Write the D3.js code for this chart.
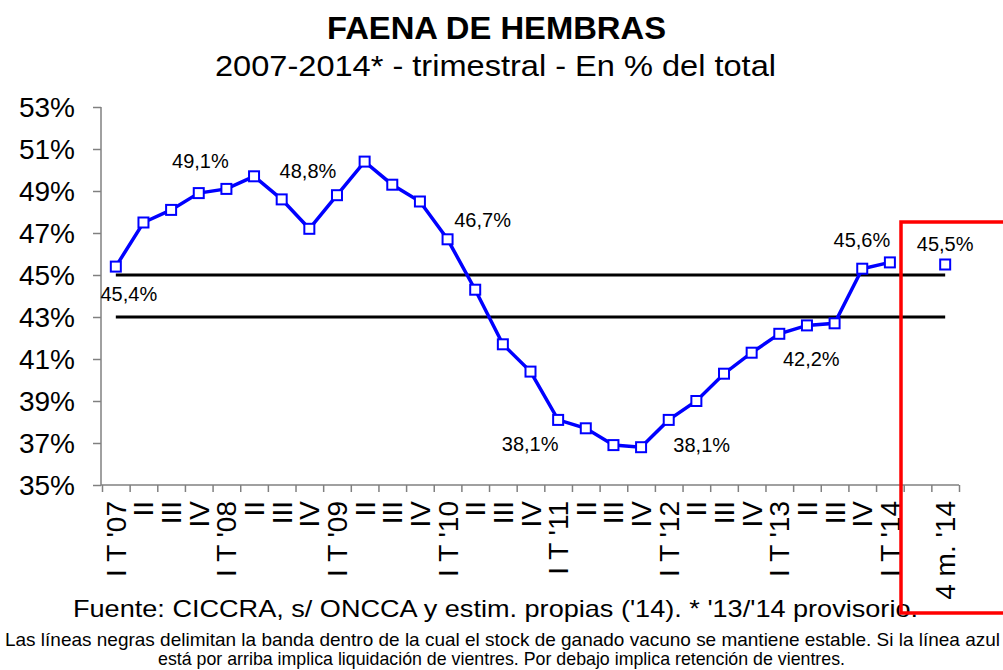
<!DOCTYPE html>
<html>
<head>
<meta charset="utf-8">
<script src="https://cdn.jsdelivr.net/npm/d3@7"></script>
<style>
  body { margin: 0; background: #fff; }
  text { font-family: "Liberation Sans", Arial, sans-serif; fill: #000; }
</style>
</head>
<body>
<svg width="1003" height="670"></svg>
<script>
const quarters = ["I T '07", "II", "III", "IV", "I T '08", "II ", "III ", "IV ", "I T '09", "II  ", "III  ", "IV  ",
  "I T '10", "II   ", "III   ", "IV   ", "I T '11", "II    ", "III    ", "IV    ", "I T '12", "II     ", "III     ", "IV     ",
  "I T '13", "II      ", "III      ", "IV      ", "I T '14"];
const categories = quarters.concat(["gap", "4 m. '14"]);
const values = [45.4, 47.5, 48.1, 48.9, 49.1, 49.7, 48.6, 47.2, 48.8, 50.4, 49.3, 48.5,
  46.7, 44.3, 41.7, 40.4, 38.1, 37.7, 36.9, 36.8, 38.1, 39.0, 40.3, 41.3,
  42.2, 42.6, 42.7, 45.3, 45.6];
const lastValue = 45.5;
const band = [45, 43];
const yTicks = [35, 37, 39, 41, 43, 45, 47, 49, 51, 53];
// which points carry a label, and where the label sits relative to the point
const labels = [
  {i: 0, dx: 13, dy: 27},
  {i: 4, dx: -26, dy: -28},
  {i: 8, dx: -29, dy: -24},
  {i: 12, dx: 35, dy: -19},
  {i: 16, dx: -28, dy: 24},
  {i: 20, dx: 33, dy: 25},
  {i: 24, dx: 32, dy: 25},
  {i: 28, dx: -28, dy: -22},
  {i: 30, dx: 0, dy: -21}
];

const svg = d3.select("svg");
const fmt = v => d3.format(".1f")(v).replace(".", ",") + "%";

const x = d3.scaleBand().domain(categories).range([102, 959]);
const xi = d3.scaleLinear().domain([0, categories.length]).range([102, 959]);
const y = d3.scaleLinear().domain([35, 53]).range([485, 107]);
const cx = i => x(categories[i]) + x.bandwidth() / 2;

// titles
svg.append("text").attr("x", 327).attr("y", 39)
  .attr("textLength", 339).attr("lengthAdjust", "spacingAndGlyphs")
  .style("font-size", "32px").style("font-weight", "bold").text("FAENA DE HEMBRAS");
svg.append("text").attr("x", 215).attr("y", 76)
  .attr("textLength", 561).attr("lengthAdjust", "spacingAndGlyphs")
  .style("font-size", "30px").text("2007-2014* - trimestral - En % del total");

// y axis
const yAxis = svg.append("g").attr("transform", "translate(101,0)")
  .call(d3.axisLeft(y).tickValues(yTicks).tickSize(8).tickPadding(18).tickFormat(d => d + "%"));
yAxis.selectAll("text").style("font-size", "28px").attr("dy", "0.35em");
yAxis.selectAll("line, path").attr("stroke", "#808080").attr("stroke-width", 1.5);
yAxis.select(".domain").attr("d", "M0,107V485");

// x axis
const xAxis = svg.append("g").attr("transform", "translate(0,485)")
  .call(d3.axisBottom(xi).ticks(categories.length).tickSize(7).tickFormat(""));
xAxis.selectAll("line, path").attr("stroke", "#808080").attr("stroke-width", 1.5);
xAxis.select(".domain").attr("d", "M101,0H959");

svg.append("g").selectAll("text").data(categories.filter(c => c !== "gap")).join("text")
  .attr("transform", d => `translate(${x(d) + x.bandwidth() / 2 + 10},501) rotate(-90)`)
  .attr("text-anchor", "end")
  .style("font-size", "28px")
  .text(d => d.trim());

// stability band
svg.append("g").selectAll("line").data(band).join("line")
  .attr("x1", cx(0)).attr("x2", cx(categories.length - 1))
  .attr("y1", d => y(d)).attr("y2", d => y(d))
  .attr("stroke", "#000").attr("stroke-width", 3);

// series
const line = d3.line().x((d, i) => cx(i)).y(d => y(d));
svg.append("path").datum(values).attr("d", line)
  .attr("fill", "none").attr("stroke", "#0000ff").attr("stroke-width", 3.5);

const points = values.map((v, i) => ({i, v})).concat([{i: categories.length - 1, v: lastValue}]);
svg.append("g").selectAll("rect").data(points).join("rect")
  .attr("x", d => cx(d.i) - 5).attr("y", d => y(d.v) - 5)
  .attr("width", 10).attr("height", 10)
  .attr("fill", "#fff").attr("stroke", "#0000ff").attr("stroke-width", 2);

svg.append("g").selectAll("text").data(labels).join("text")
  .attr("x", d => cx(d.i) + d.dx)
  .attr("y", d => y(d.i === 30 ? lastValue : values[d.i]) + d.dy)
  .attr("dy", "0.35em")
  .attr("text-anchor", "middle")
  .style("font-size", "20px")
  .text(d => fmt(d.i === 30 ? lastValue : values[d.i]));

// footer
svg.append("text").attr("x", 73).attr("y", 617)
  .attr("textLength", 845).attr("lengthAdjust", "spacingAndGlyphs")
  .style("font-size", "24px").text("Fuente: CICCRA, s/ ONCCA y estim. propias ('14). * '13/'14 provisorio.");
svg.append("text").attr("x", 5).attr("y", 646)
  .attr("textLength", 995).attr("lengthAdjust", "spacingAndGlyphs")
  .style("font-size", "19px").text("Las líneas negras delimitan la banda dentro de la cual el stock de ganado vacuno se mantiene estable. Si la línea azul");
svg.append("text").attr("x", 158).attr("y", 665)
  .attr("textLength", 687).attr("lengthAdjust", "spacingAndGlyphs")
  .style("font-size", "19px").text("está por arriba implica liquidación de vientres. Por debajo implica retención de vientres.");

// red highlight box
svg.append("rect").attr("x", 901).attr("y", 222).attr("width", 200).attr("height", 391)
  .attr("fill", "none").attr("stroke", "#ff0000").attr("stroke-width", 3.5);
</script>
</body>
</html>
